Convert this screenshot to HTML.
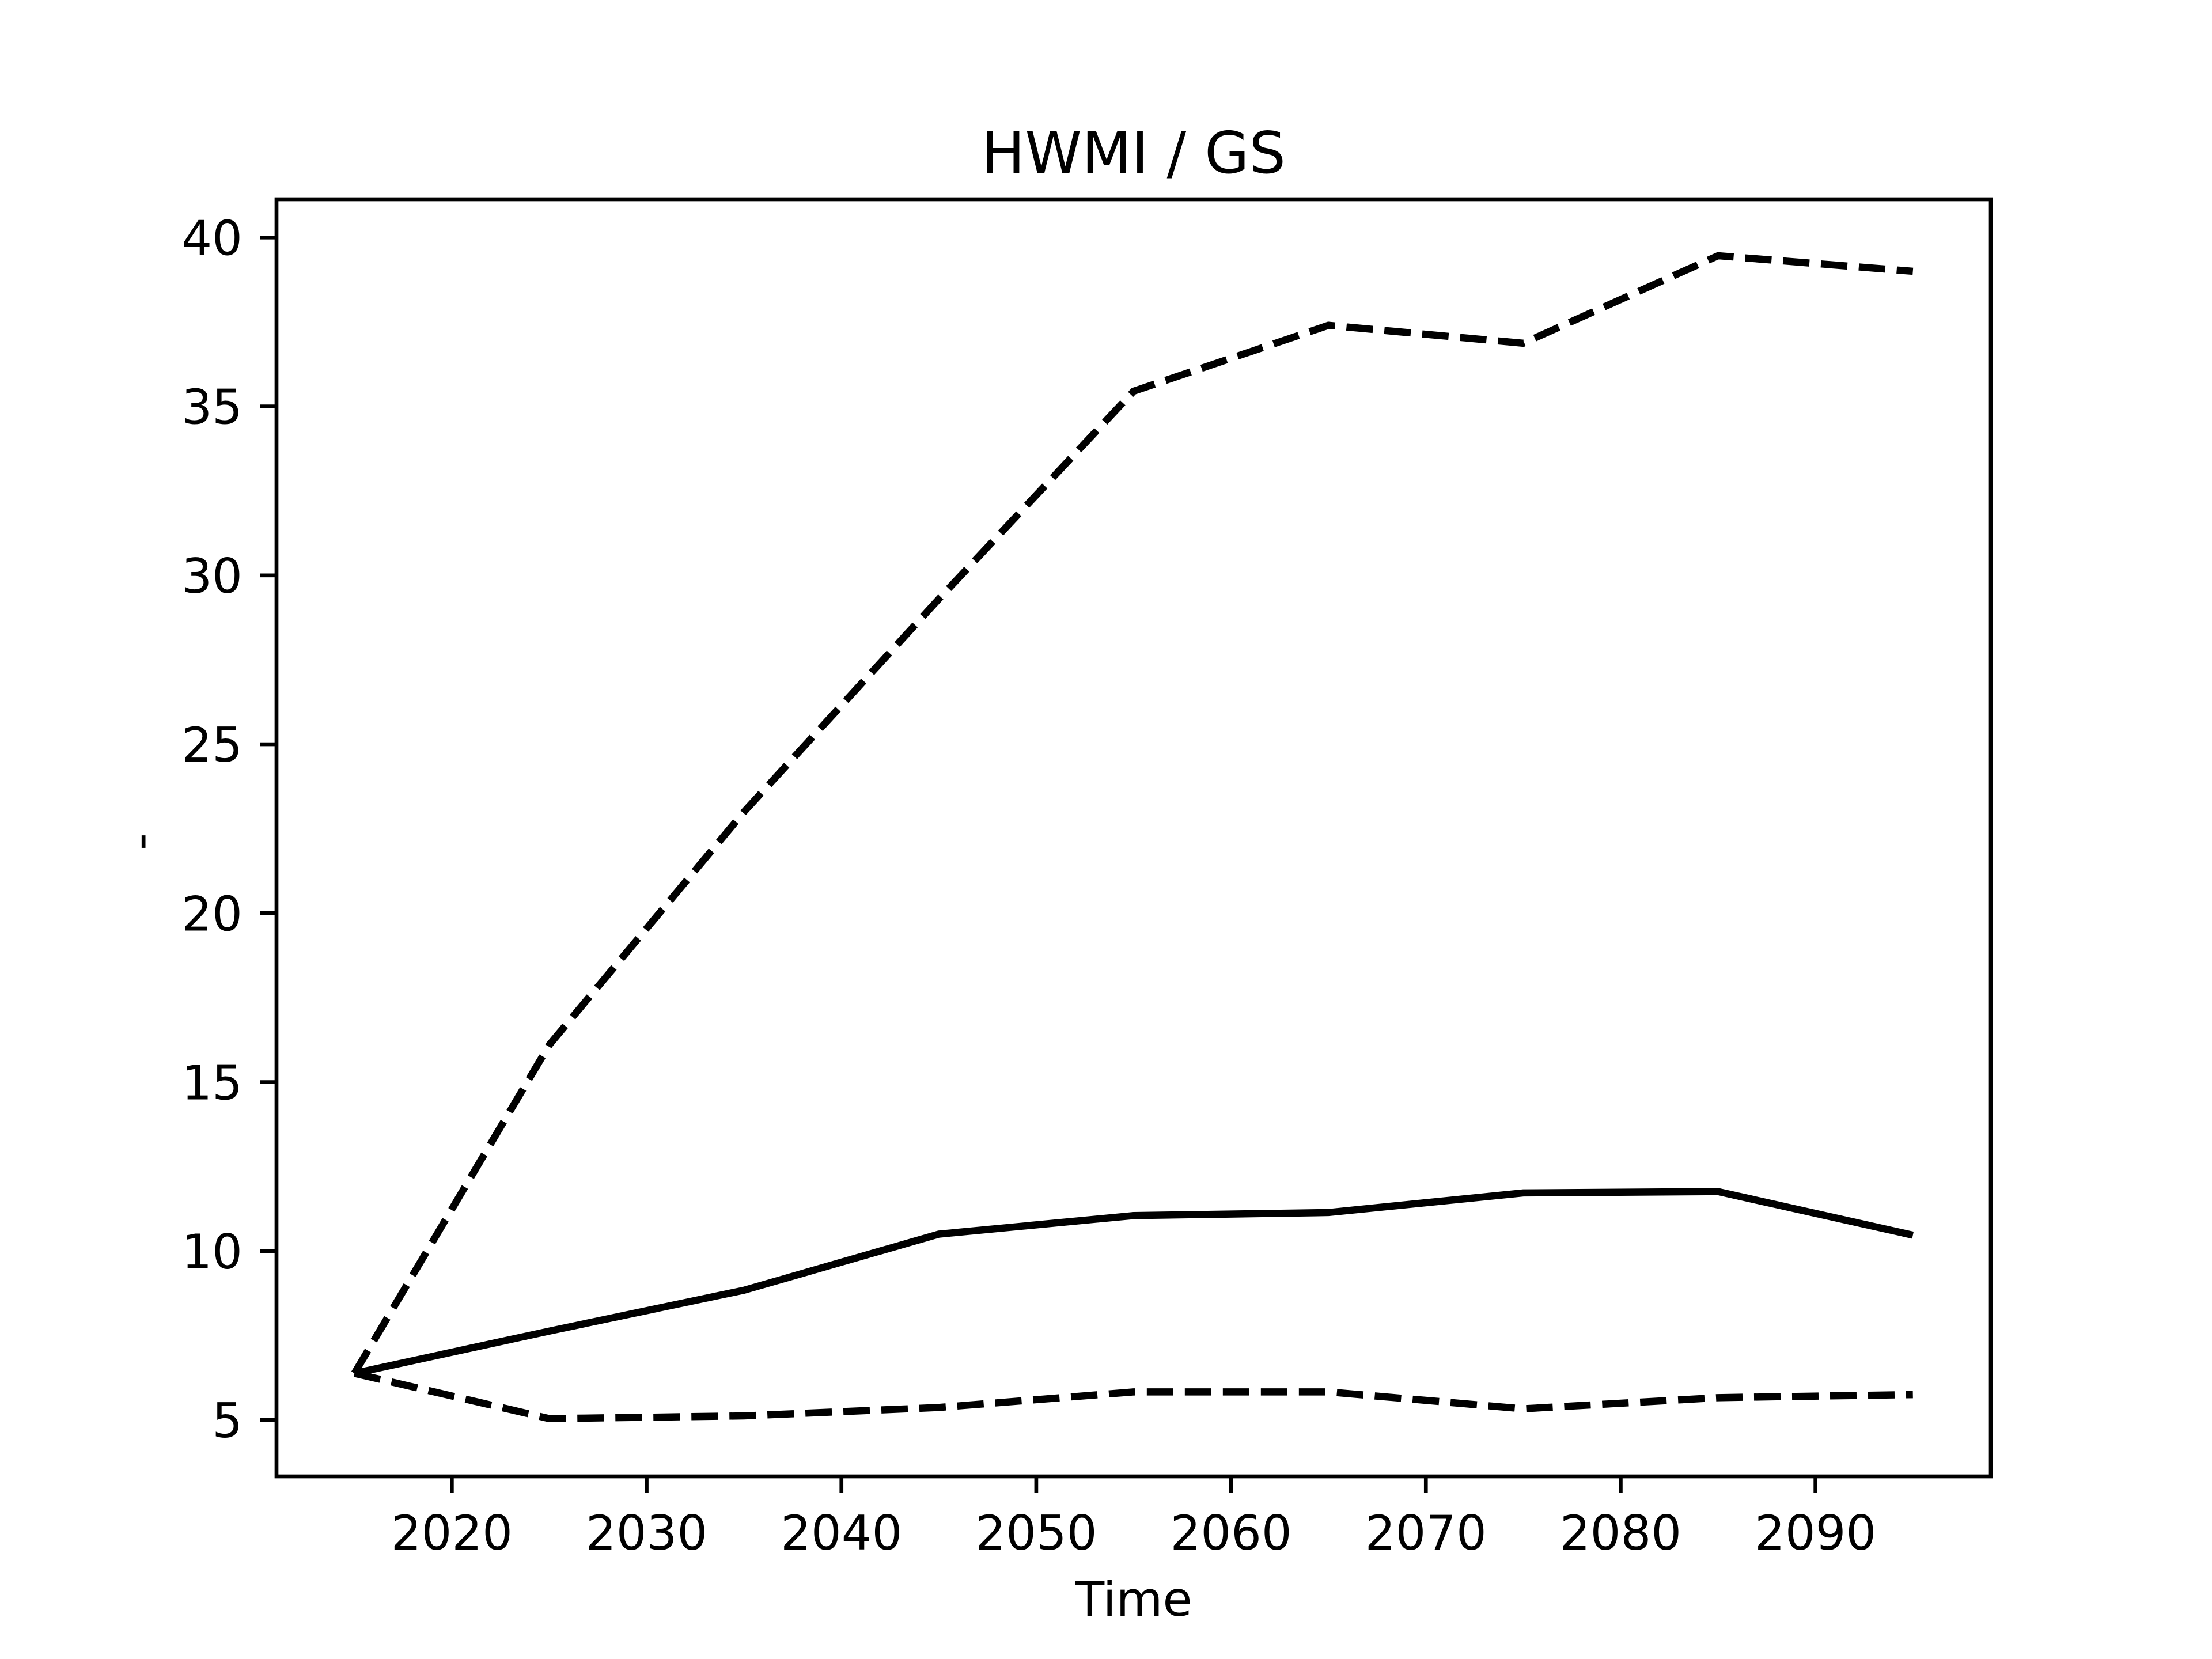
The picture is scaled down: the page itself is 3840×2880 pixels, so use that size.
<!DOCTYPE html>
<html><head><meta charset="utf-8"><style>html,body{margin:0;padding:0;background:#fff}svg{display:block}</style></head>
<body>
<svg id="chart" width="3840" height="2880" xmlns="http://www.w3.org/2000/svg" font-family="DejaVu Sans, Liberation Sans, sans-serif">
<rect width="3840" height="2880" fill="#fff"/>
<text x="1968" y="300" font-size="100" text-anchor="middle">HWMI / GS</text>
<text x="1968" y="2805" font-size="83" text-anchor="middle">Time</text>
<text x="0" y="0" font-size="83" text-anchor="middle" transform="translate(272,1461) rotate(-90)">-</text>
<g id="plot"></g>
</svg>
<script>
const years = [2015, 2025, 2035, 2045, 2055, 2065, 2075, 2085, 2095];
const upperValues = [6.38, 16.1, 23.0, 29.3, 35.45, 37.4, 36.87, 39.46, 39.0];
const medianValues = [6.38, 7.63, 8.84, 10.5, 11.05, 11.14, 11.72, 11.76, 10.47];
const lowerValues = [6.38, 5.04, 5.12, 5.37, 5.83, 5.83, 5.33, 5.66, 5.75];
const xTicks = [2020, 2030, 2040, 2050, 2060, 2070, 2080, 2090];
const yTicks = [5, 10, 15, 20, 25, 30, 35, 40];

const L=480,R=3456,T=346,B=2563;
const xMin=2011,xMax=2099,yMin=3.33,yMax=41.13;
const X=v=>L+(v-xMin)/(xMax-xMin)*(R-L);
const Y=v=>B-(v-yMin)/(yMax-yMin)*(B-T);
const NS='http://www.w3.org/2000/svg';
const g=document.getElementById('plot');
function mk(tag,attrs){const e=document.createElementNS(NS,tag);for(const k in attrs)e.setAttribute(k,attrs[k]);g.appendChild(e);return e;}

function series(vals,dashed,name){
  const p=mk('polyline',{points:years.map((y,i)=>X(y)+','+Y(vals[i])).join(' '),fill:'none',stroke:'#000','stroke-width':12.5,'stroke-dasharray':dashed?'46 20':'none'});
  
  
}
series(upperValues,true,'upper-bound-line');
series(medianValues,false,'median-line');
series(lowerValues,true,'lower-bound-line');

xTicks.forEach(t=>{
  const l=mk('line',{x1:X(t),x2:X(t),y1:B,y2:B+29,stroke:'#000','stroke-width':6.67});
  
  
  const tx=mk('text',{x:X(t),y:2690,'font-size':83,'text-anchor':'middle'});
  tx.textContent=t;
  
  
});
yTicks.forEach(t=>{
  const l=mk('line',{x1:L-29,x2:L,y1:Y(t),y2:Y(t),stroke:'#000','stroke-width':6.67});
  
  
  const tx=mk('text',{x:421,y:Y(t)+30,'font-size':83,'text-anchor':'end'});
  tx.textContent=t;
  
  
});
const frame=mk('rect',{x:L,y:T,width:R-L,height:B-T,fill:'none',stroke:'#000','stroke-width':6.67});


</script>
</body></html>
